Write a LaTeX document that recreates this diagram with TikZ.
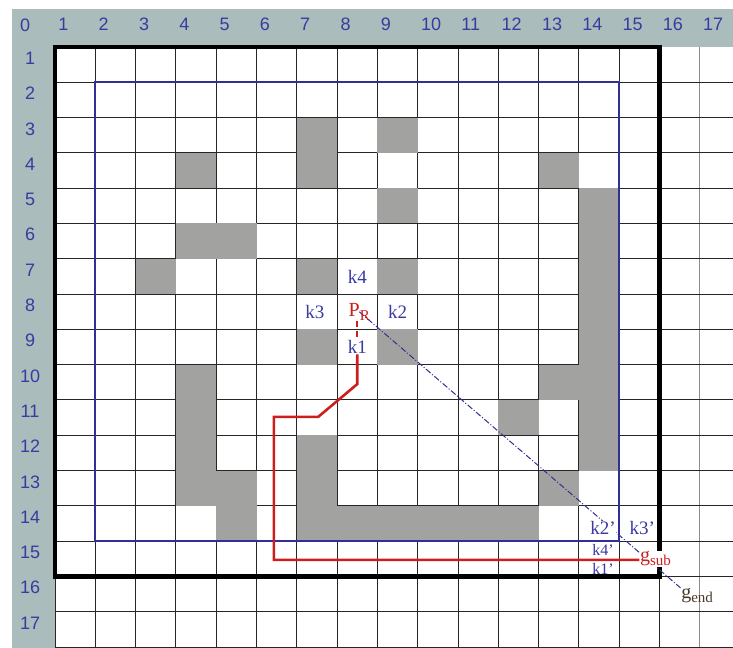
\documentclass[tikz,border=0pt]{standalone}
\usepackage{fontspec}
\setmainfont{Liberation Serif}
\setsansfont{Liberation Sans}
\usepackage{xcolor}
\usetikzlibrary{positioning}

\definecolor{stripcol}{RGB}{170,188,188}
\definecolor{cellgray}{RGB}{162,162,160}
\definecolor{bluepen}{RGB}{48,48,150}
\definecolor{redpen}{RGB}{205,30,30}
\definecolor{labelblue}{RGB}{58,58,160}
\definecolor{endcol}{RGB}{70,55,40}

\pgfdeclarelayer{front}
\pgfsetlayers{main,front}

\newcommand{\lowsub}[1]{\raisebox{-4pt}{\fontsize{15}{15}\selectfont #1}}

\begin{document}
\begin{tikzpicture}[
    x=40.3pt, y=-35.3pt,
    gridline/.style={draw=black!85, line width=1pt},
    headnum/.style={text=labelblue, font=\sffamily\fontsize{18}{18}\selectfont, inner sep=0pt},
    klabel/.style={text=labelblue, fill=white, inner sep=0.6pt, font=\fontsize{19}{19}\selectfont},
    smallk/.style={text=labelblue, fill=white, inner sep=0pt, font=\fontsize{16}{16}\selectfont},
    goallabel/.style={inner sep=0.6pt, font=\fontsize{20}{20}\selectfont},
    redpath/.style={draw=redpen, line width=2.6pt},
    diagline/.style={draw=bluepen, line width=1pt, dash pattern=on 6pt off 2pt on 1pt off 2pt}
]
\useasboundingbox (-1.3648,-1.3314) rectangle (16.824,17.025);
\clip (-1.3648,-1.3314) rectangle (16.824,17.025);

% header strips with the numbers
\fill[stripcol] (-1.067,-1.076) rectangle (16.824,0);
\fill[stripcol] (-1.067,0) rectangle (0,17.025);
\node[headnum] (corner) at (-0.744,-0.62) {0};
\foreach \c in {1,...,17}
    \node[headnum, anchor=west] (col\c) at (\c-1+0.08,-0.64) {\c};
\foreach \r in {1,...,17}
    \node[headnum] (row\r) at (-0.62,\r-0.68) {\r};

% grid
\foreach \i in {0,...,15}
    \draw[gridline] (\i,0) -- (\i,17.03);
\draw[gridline, draw=black!45] (16,0) -- (16,17.03);
\foreach \j in {1,...,17}
    \draw[gridline] (0,\j) -- (16.83,\j);

% obstacles
\foreach \r/\c in {3/7,3/9,4/4,4/7,4/13,5/9,5/14,6/4,6/5,6/14,7/3,7/7,7/9,7/14,
                   8/14,9/7,9/9,9/14,10/4,10/13,10/14,11/4,11/12,11/14,
                   12/4,12/7,12/14,13/4,13/5,13/7,13/13,14/5,14/7,14/8,14/9,
                   14/10,14/11,14/12}
    \fill[cellgray] (\c-1,\r-1) rectangle (\c,\r);

\draw[line width=4.5pt] (0,0) rectangle (15,15);
\draw[bluepen, line width=2pt] (1,1) rectangle (14,14);

\begin{pgfonlayer}{front}
\node[klabel] (k4) at (7.5,6.5) {k4};
\node[klabel] (k3) at (6.45,7.5) {k3};
\node[goallabel, text=redpen] (Pr) at (7.55,7.5) {P\lowsub{R}};
\node[klabel] (k2) at (8.5,7.5) {k2};
\node[klabel] (k1) at (7.5,8.5) {k1};
\node[klabel] (k2p) at (13.6,13.63) {k2'};
\node[klabel] (k3p) at (14.57,13.63) {k3'};
\node[smallk] (k4p) at (13.6,14.24) {k4'};
\node[smallk] (k1p) at (13.6,14.78) {k1'};
\node[goallabel, text=redpen, fill=white, anchor=west] (gsub) at (14.5,14.5) {g\lowsub{sub}};
\node[goallabel, text=endcol, anchor=west] (gend) at (15.52,15.55) {g\lowsub{end}};
\end{pgfonlayer}

\coordinate (r1) at (7.5,9.55);
\coordinate (r2) at (6.53,10.48);
\coordinate (r3) at (5.43,10.48);
\coordinate (r4) at (5.43,14.53);
\draw[redpath, line width=2.2pt, dash pattern=on 6pt off 4pt] (Pr.south -| k1) -- (k1.north);
\draw[redpath] (k1.south) -- (r1) -- (r2) -- (r3) -- (r4) -- (r4 -| gsub.west);
\draw[diagline] (Pr.center) -- (gend.north west);
\end{tikzpicture}
\end{document}
